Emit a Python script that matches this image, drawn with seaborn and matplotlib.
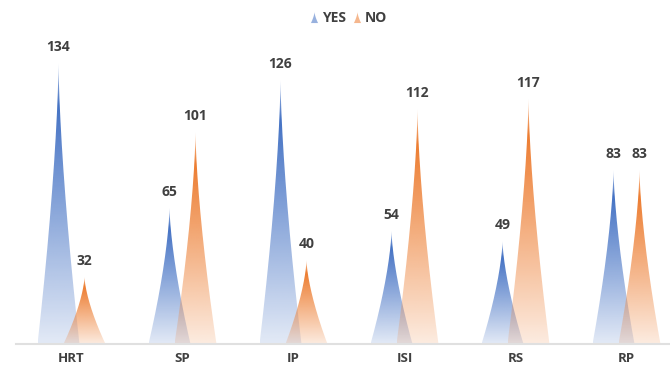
import numpy as np
import pandas as pd
import matplotlib
matplotlib.use("Agg")
import matplotlib.pyplot as plt
import seaborn as sns
from matplotlib.path import Path
from matplotlib.patches import PathPatch
from matplotlib.lines import Line2D
from matplotlib.colors import to_rgb

# ---- data ----
categories = ["HRT", "SP", "IP", "ISI", "RS", "RP"]
yes_values = [134, 65, 126, 54, 49, 83]
no_values = [32, 101, 40, 112, 117, 83]
series_names = ["YES", "NO"]
series_colors = {"YES": "#4472C4", "NO": "#ED7D31"}

df = pd.DataFrame({
    "category": categories * 2,
    "value": yes_values + no_values,
    "series": ["YES"] * len(categories) + ["NO"] * len(categories),
})

sns.set_theme(style="white")
plt.rcParams["font.family"] = ["Open Sans", "DejaVu Sans"]
text_color = "#404040"

fig = plt.figure(figsize=(6.7, 3.67), dpi=100)
ax = fig.add_axes([16 / 670, 23 / 367, 666 / 670, 344 / 367])

sns.barplot(data=df, x="category", y="value", hue="series", hue_order=series_names,
            palette=series_colors, saturation=1, width=0.234 * 2, errorbar=None,
            legend=False, ax=ax)

ylim_top = 344 / 2.095
half_w = 0.189

def spike_shape(xc, h, n=80):
    f = np.linspace(0, 1, n)
    hw = half_w * (1 - f) ** 1.5
    xs = np.concatenate([xc - hw, (xc + hw)[::-1]])
    ys = np.concatenate([f * h, (f * h)[::-1]])
    verts = np.column_stack([xs, ys])
    return Path(verts, closed=False)

def gradient_img(color, n=256):
    r, g, b = to_rgb(color)
    f = np.linspace(1, 0, n)  # top row first
    alpha = np.where(f >= 0.85, 1.0 - (f - 0.85) / 0.15 * 0.55,
                     0.15 + 0.85 * f / 0.85)
    img = np.zeros((n, 1, 4))
    img[:, 0, 0] = r
    img[:, 0, 1] = g
    img[:, 0, 2] = b
    img[:, 0, 3] = alpha
    return img

def nearest_series(fc):
    d = {s: np.sum((np.array(to_rgb(c)) - np.array(fc[:3])) ** 2) for s, c in series_colors.items()}
    return min(d, key=d.get)

bars = list(ax.patches)
spikes = []
for p in bars:
    s = nearest_series(p.get_facecolor())
    xc = p.get_x() + p.get_width() / 2
    h = p.get_height()
    spikes.append((series_names.index(s), xc, h, s))
    p.remove()

spikes.sort(key=lambda t: t[0])
for _, xc, h, s in spikes:
    path = spike_shape(xc, h)
    patch = PathPatch(path, facecolor="none", edgecolor="none")
    ax.add_patch(patch)
    im = ax.imshow(gradient_img(series_colors[s]), extent=[xc - half_w, xc + half_w, 0, h],
                   aspect="auto", interpolation="bilinear", zorder=2)
    im.set_clip_path(patch)
    ax.annotate(f"{int(round(h))}", (xc, h), xytext=(0, 6.5), textcoords="offset points",
                ha="center", va="bottom", fontsize=10, fontweight="bold", color=text_color)

ax.set_xlim(-0.5, len(categories) - 0.5)
ax.set_ylim(0, ylim_top)
ax.set_xlabel("")
ax.set_ylabel("")
ax.set_yticks([])
ax.tick_params(axis="x", length=0, pad=5.5, labelsize=9.5, labelcolor=text_color)
for lbl in ax.get_xticklabels():
    lbl.set_fontweight("bold")
for side in ["top", "right", "left"]:
    ax.spines[side].set_visible(False)
ax.spines["bottom"].set_color("#E0E0E0")
ax.spines["bottom"].set_linewidth(1.5)
ax.patch.set_alpha(0)

# legend marker: small spike shape
ff = np.linspace(0, 1, 30)
hw_m = 0.32 * (1 - ff) ** 1.5
mverts = np.column_stack([np.concatenate([-hw_m, hw_m[::-1]]),
                          np.concatenate([ff - 0.5, (ff - 0.5)[::-1]])])
mpath = Path(mverts)
handles = [Line2D([], [], linestyle="none", marker=mpath, markersize=8,
                  markerfacecolor=series_colors[s], markeredgecolor="none", alpha=0.55,
                  label=s) for s in series_names]
leg = fig.legend(handles=handles, loc="center", bbox_to_anchor=(349 / 670, 1 - 18 / 367),
                 ncol=2, frameon=False, handlelength=0.5, handletextpad=0.35, columnspacing=0.5,
                 prop={"weight": "bold", "size": 10})
for t in leg.get_texts():
    t.set_color(text_color)

fig.savefig("out.png", dpi=100)
